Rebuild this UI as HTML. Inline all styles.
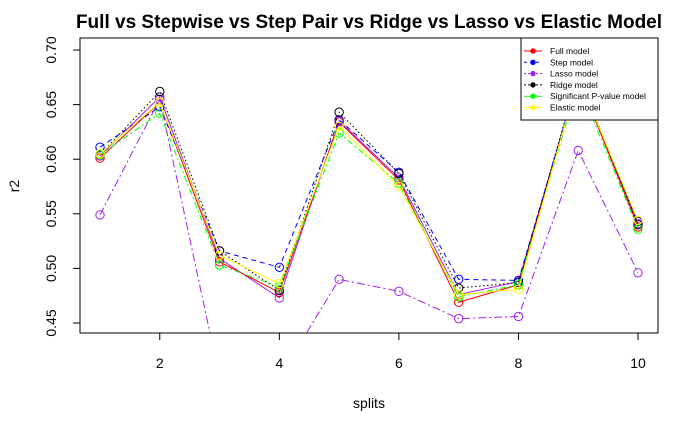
<!DOCTYPE html>
<html><head><meta charset="utf-8"><style>
body{margin:0;background:#fff;font-family:"Liberation Sans",sans-serif}
svg{display:block}
</style></head><body>
<svg id="chart" width="700" height="432" xmlns="http://www.w3.org/2000/svg">
<defs><clipPath id="pc"><rect x="80" y="38" width="578" height="295"/></clipPath></defs>
<text x="369" y="28" text-anchor="middle" font-size="19" font-weight="bold">Full vs Stepwise vs Step Pair vs Ridge vs Lasso vs Elastic Model</text>
<text x="369" y="408" text-anchor="middle" font-size="14">splits</text>
<text x="19" y="186" text-anchor="middle" font-size="14" transform="rotate(-90 19 186)">r2</text>
<g id="axes"></g>
<g id="series" clip-path="url(#pc)"></g>
<rect x="80" y="38" width="578" height="295" fill="none" stroke="#000"/>
<g id="legend"></g>
</svg>
<script>
const splits=[1,2,3,4,5,6,7,8,9,10];
const fullVals=[0.601,0.652,0.506,0.478,0.634,0.581,0.469,0.485,0.675,0.538];
const stepVals=[0.611,0.648,0.516,0.501,0.636,0.588,0.490,0.489,0.675,0.543];
const lassoVals=[0.549,0.655,0.40,0.40,0.490,0.479,0.454,0.456,0.608,0.496];
const ridgeVals=[0.604,0.662,0.516,0.480,0.643,0.587,0.482,0.487,0.678,0.540];
const sigVals=[0.604,0.642,0.503,0.483,0.624,0.578,0.474,0.485,0.670,0.536];
const elasticVals=[0.605,0.652,0.512,0.486,0.630,0.575,0.476,0.481,0.675,0.544];
const extraVals=[0.603,0.657,0.509,0.473,0.635,0.583,0.476,0.488,0.675,0.541];
const xTicks=[2,4,6,8,10];
const yTicks=[0.45,0.50,0.55,0.60,0.65,0.70];
const legendLabels=["Full model","Step model","Lasso model","Ridge model","Significant P-value model","Elastic model"];

const NS="http://www.w3.org/2000/svg";
const xs=v=>100+(v-1)*59.78;
const ys=v=>50+(0.70-v)/0.05*54.6;
function mk(tag,attrs,parent){const e=document.createElementNS(NS,tag);for(const k in attrs)e.setAttribute(k,attrs[k]);parent.appendChild(e);return e;}
const axes=document.getElementById('axes');
xTicks.forEach(t=>{
  const l=mk('line',{x1:xs(t),x2:xs(t),y1:333,y2:340,stroke:'#000'},axes);
  
  
  const tx=mk('text',{x:xs(t),y:368,'text-anchor':'middle','font-size':14},axes);
  tx.textContent=t;
  
  
});
yTicks.forEach(t=>{
  const l=mk('line',{x1:73,x2:80,y1:ys(t),y2:ys(t),stroke:'#000'},axes);
  
  
  const tx=mk('text',{x:56,y:ys(t),'text-anchor':'middle','font-size':14,transform:`rotate(-90 56 ${ys(t)})`},axes);
  tx.textContent=t.toFixed(2);
  
  
});
const series=[
 {name:'extra-purple-series',vals:extraVals,color:'#a020f0',dash:''},
 {name:'full-model-series',vals:fullVals,color:'#ff0000',dash:''},
 {name:'step-model-series',vals:stepVals,color:'#0000ff',dash:'5,4'},
 {name:'lasso-model-series',vals:lassoVals,color:'#a020f0',dash:'8,3,2,3'},
 {name:'ridge-model-series',vals:ridgeVals,color:'#000000',dash:'1.5,2.5'},
 {name:'significant-model-series',vals:sigVals,color:'#00ff00',dash:'6,3,2,3'},
 {name:'elastic-model-series',vals:elasticVals,color:'#ffff00',dash:''}
];
const sg=document.getElementById('series');
series.forEach(s=>{
  const g=mk('g',{},sg);
  
  
  const pts=splits.map((x,i)=>xs(x)+','+ys(s.vals[i])).join(' ');
  mk('polyline',{points:pts,fill:'none',stroke:s.color,'stroke-width':1,'stroke-dasharray':s.dash},g);
  splits.forEach((x,i)=>{
    const c=mk('circle',{cx:xs(x),cy:ys(s.vals[i]),r:4.2,fill:'none',stroke:s.color,'stroke-width':1},g);
    
    
  });
});
const lg=document.getElementById('legend');
mk('rect',{x:521,y:38,width:137,height:82,fill:'#fff',stroke:'#000'},lg);
const lcol=['#ff0000','#0000ff','#a020f0','#000000','#00ff00','#ffff00'];
const ldash=['','3,3','2,2','2,2','',''];
legendLabels.forEach((lab,i)=>{
  const y=51+i*11.3;
  const e=mk('g',{},lg);
  
  
  mk('line',{x1:524,x2:542,y1:y,y2:y,stroke:lcol[i],'stroke-dasharray':ldash[i]},e);
  mk('circle',{cx:533,cy:y,r:2.2,fill:lcol[i],stroke:lcol[i]},e);
  const t=mk('text',{x:550,y:y+3,'font-size':8.5},e);
  t.textContent=lab;
});
</script>
</body></html>
